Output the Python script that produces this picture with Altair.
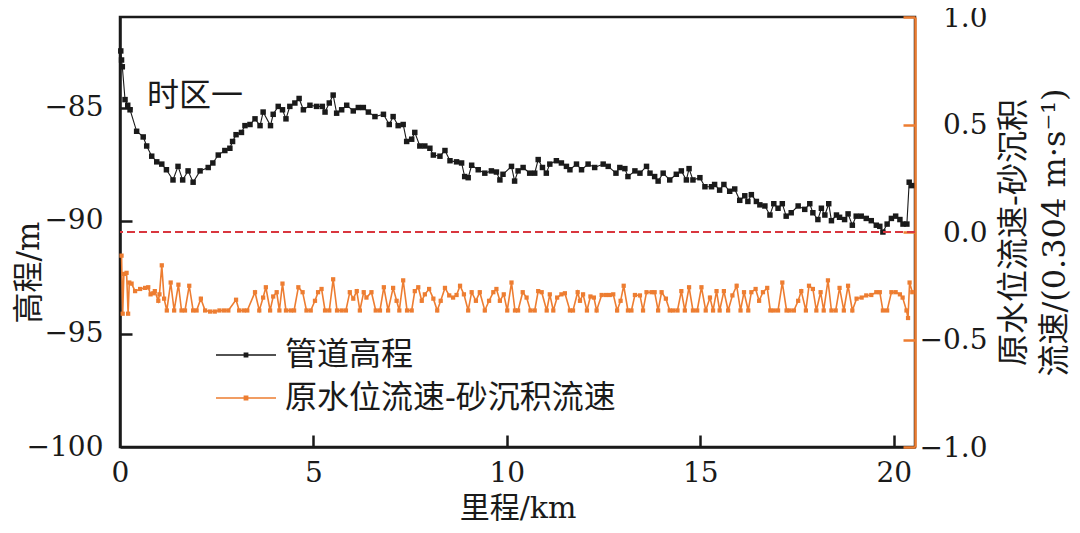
import altair as alt
import pandas as pd

FONT = "DejaVu Serif, Noto Sans CJK SC"
BLACK = "#1a1a1a"
ORANGE = "#ED7D31"
RED = "#D9363E"

SERIES = ["管道高程", "原水位流速-砂沉积流速"]
X_TICKS = [0, 5, 10, 15, 20]
LEFT_TICKS = [-100, -95, -90, -85]
RIGHT_TICKS = [-1.0, -0.5, 0.0, 0.5, 1.0]
ZERO = [0.0]
NOTE_KM = [0.7]
NOTE_M = [-84.47]
NOTE_TEXT = ["时区一"]
RIGHT_TITLE = ["原水位流速-砂沉积", "流速/(0.304 m·s⁻¹)"]

# (km, elevation m)
ELEV = [
    (0.02, -82.5), (0.04, -82.9), (0.06, -83.2), (0.13, -84.65), (0.2, -84.9), (0.26, -85.1),
    (0.43, -86.05), (0.6, -86.3), (0.69, -86.7), (0.82, -87.15), (0.95, -87.4), (1.08, -87.5),
    (1.2, -87.75), (1.37, -88.2), (1.5, -87.6), (1.62, -88.2), (1.76, -87.8), (1.89, -88.3),
    (2.07, -87.8), (2.28, -87.65), (2.4, -87.45), (2.54, -87.1), (2.71, -86.9), (2.84, -86.8),
    (2.91, -86.5), (3.0, -86.2), (3.14, -86.1), (3.23, -85.8), (3.36, -85.75), (3.49, -85.5),
    (3.62, -85.8), (3.7, -85.2), (3.89, -85.8), (3.96, -85.3), (4.09, -84.95), (4.2, -85.1),
    (4.29, -85.5), (4.39, -84.95), (4.52, -84.8), (4.63, -84.6), (4.74, -85.1), (4.91, -84.9),
    (5.08, -84.95), (5.23, -84.95), (5.3, -85.2), (5.41, -84.8), (5.51, -84.45), (5.6, -85.25),
    (5.73, -85.1), (5.86, -84.9), (6.03, -85.15), (6.16, -85.0), (6.29, -85.0), (6.42, -85.2),
    (6.59, -85.4), (6.81, -85.3), (6.96, -85.75), (7.06, -85.4), (7.19, -85.8), (7.32, -85.75),
    (7.41, -86.5), (7.54, -86.4), (7.62, -86.1), (7.75, -86.7), (7.88, -86.7), (8.01, -86.8),
    (8.1, -87.1), (8.27, -87.15), (8.4, -86.9), (8.53, -87.35), (8.7, -87.4), (8.83, -87.45),
    (8.91, -88.05), (9.0, -88.1), (9.09, -87.55), (9.26, -87.75), (9.43, -87.9), (9.6, -87.8),
    (9.73, -87.85), (9.82, -88.2), (9.9, -87.95), (10.12, -87.6), (10.2, -88.25), (10.29, -87.8),
    (10.42, -87.65), (10.59, -87.9), (10.72, -87.9), (10.81, -87.3), (10.92, -87.65), (11.02, -87.9),
    (11.11, -87.5), (11.28, -87.35), (11.41, -87.45), (11.54, -87.6), (11.63, -87.75), (11.8, -87.5),
    (11.93, -87.75), (12.1, -87.5), (12.27, -87.65), (12.49, -87.5), (12.62, -87.6), (12.82, -87.9),
    (12.92, -87.65), (13.05, -87.7), (13.13, -88.05), (13.31, -87.8), (13.44, -87.9), (13.61, -87.6),
    (13.7, -87.9), (13.82, -88.05), (13.91, -88.25), (14.04, -87.9), (14.21, -88.2), (14.38, -87.95),
    (14.51, -87.8), (14.64, -88.2), (14.71, -87.7), (14.81, -88.2), (14.99, -88.1), (15.12, -88.5),
    (15.29, -88.5), (15.37, -88.4), (15.5, -88.65), (15.61, -88.4), (15.76, -88.7), (15.89, -88.6),
    (16.02, -89.1), (16.15, -88.9), (16.23, -89.15), (16.32, -88.85), (16.45, -89.15), (16.54, -89.3),
    (16.67, -89.35), (16.8, -89.75), (16.9, -89.25), (17.01, -89.45), (17.12, -89.25), (17.22, -89.8),
    (17.35, -89.65), (17.53, -89.35), (17.7, -89.5), (17.83, -89.25), (17.91, -89.65), (18.04, -89.95),
    (18.13, -89.45), (18.22, -89.75), (18.32, -89.25), (18.39, -90.0), (18.52, -89.75), (18.6, -89.85),
    (18.73, -89.95), (18.82, -89.7), (18.93, -90.2), (19.03, -89.8), (19.16, -89.8), (19.29, -89.9),
    (19.42, -90.0), (19.55, -90.2), (19.64, -90.25), (19.72, -90.5), (19.83, -90.15), (19.94, -89.9),
    (20.05, -89.8), (20.16, -89.95), (20.24, -90.15), (20.34, -90.15), (20.4, -88.3), (20.46, -88.45),
]

# (km, velocity difference / 0.304 m/s)
VEL = [
    (0.04, -0.11), (0.07, -0.38), (0.10, -0.195), (0.17, -0.19), (0.21, -0.38), (0.24, -0.235),
    (0.30, -0.24), (0.39, -0.275), (0.52, -0.265), (0.65, -0.26), (0.73, -0.257), (0.79, -0.29),
    (0.86, -0.285), (0.90, -0.275), (0.99, -0.32), (1.02, -0.29), (1.08, -0.155), (1.14, -0.31),
    (1.21, -0.365), (1.31, -0.235), (1.40, -0.365), (1.51, -0.245), (1.59, -0.365), (1.68, -0.365),
    (1.79, -0.25), (1.89, -0.365), (1.98, -0.365), (2.09, -0.31), (2.20, -0.365), (2.33, -0.37),
    (2.45, -0.37), (2.57, -0.365), (2.69, -0.365), (2.80, -0.365), (3.00, -0.315), (3.08, -0.365),
    (3.20, -0.365), (3.29, -0.365), (3.49, -0.28), (3.60, -0.365), (3.70, -0.305), (3.77, -0.257),
    (3.88, -0.365), (3.96, -0.30), (4.05, -0.28), (4.12, -0.365), (4.20, -0.24), (4.29, -0.365),
    (4.41, -0.365), (4.50, -0.365), (4.61, -0.257), (4.72, -0.28), (4.82, -0.365), (4.93, -0.365),
    (5.04, -0.32), (5.12, -0.28), (5.21, -0.265), (5.30, -0.365), (5.41, -0.365), (5.51, -0.22),
    (5.61, -0.365), (5.73, -0.365), (5.84, -0.365), (5.94, -0.28), (6.03, -0.31), (6.12, -0.275),
    (6.20, -0.365), (6.30, -0.28), (6.37, -0.305), (6.50, -0.28), (6.61, -0.365), (6.72, -0.365),
    (6.82, -0.257), (6.93, -0.365), (7.06, -0.26), (7.15, -0.32), (7.22, -0.365), (7.32, -0.225),
    (7.42, -0.365), (7.54, -0.365), (7.62, -0.275), (7.71, -0.257), (7.80, -0.32), (7.88, -0.29),
    (7.99, -0.265), (8.10, -0.31), (8.20, -0.365), (8.29, -0.32), (8.40, -0.26), (8.51, -0.295),
    (8.61, -0.305), (8.70, -0.293), (8.79, -0.25), (8.89, -0.29), (9.00, -0.365), (9.09, -0.28),
    (9.20, -0.32), (9.30, -0.28), (9.43, -0.365), (9.54, -0.32), (9.65, -0.28), (9.73, -0.265),
    (9.82, -0.32), (9.92, -0.29), (10.01, -0.365), (10.12, -0.235), (10.21, -0.365), (10.29, -0.365),
    (10.41, -0.28), (10.51, -0.305), (10.61, -0.365), (10.72, -0.365), (10.81, -0.275), (10.90, -0.28),
    (11.03, -0.365), (11.11, -0.29), (11.20, -0.365), (11.30, -0.305), (11.41, -0.29), (11.50, -0.285),
    (11.63, -0.365), (11.71, -0.365), (11.83, -0.28), (11.89, -0.32), (11.97, -0.29), (12.07, -0.365),
    (12.16, -0.30), (12.25, -0.305), (12.32, -0.365), (12.45, -0.293), (12.56, -0.293), (12.66, -0.293),
    (12.75, -0.29), (12.85, -0.365), (12.94, -0.32), (13.02, -0.25), (13.13, -0.365), (13.22, -0.365),
    (13.31, -0.293), (13.44, -0.295), (13.52, -0.365), (13.61, -0.28), (13.74, -0.28), (13.82, -0.28),
    (13.91, -0.365), (14.00, -0.28), (14.11, -0.31), (14.21, -0.365), (14.30, -0.365), (14.41, -0.365),
    (14.51, -0.275), (14.60, -0.365), (14.71, -0.257), (14.81, -0.365), (14.92, -0.365), (15.03, -0.257),
    (15.14, -0.365), (15.25, -0.305), (15.33, -0.365), (15.42, -0.275), (15.50, -0.365), (15.61, -0.275),
    (15.72, -0.365), (15.83, -0.295), (15.94, -0.25), (16.04, -0.365), (16.13, -0.28), (16.24, -0.365),
    (16.32, -0.28), (16.43, -0.265), (16.52, -0.32), (16.62, -0.28), (16.73, -0.26), (16.81, -0.365),
    (16.90, -0.365), (17.01, -0.365), (17.12, -0.235), (17.23, -0.365), (17.31, -0.365), (17.42, -0.365),
    (17.53, -0.32), (17.61, -0.275), (17.73, -0.365), (17.81, -0.25), (17.91, -0.265), (18.00, -0.365),
    (18.11, -0.28), (18.19, -0.365), (18.30, -0.225), (18.39, -0.365), (18.50, -0.365), (18.60, -0.26),
    (18.71, -0.365), (18.82, -0.25), (18.93, -0.365), (19.04, -0.31), (19.17, -0.305), (19.29, -0.295),
    (19.42, -0.293), (19.55, -0.28), (19.64, -0.28), (19.72, -0.365), (19.83, -0.365), (19.94, -0.28),
    (20.05, -0.28), (20.16, -0.29), (20.23, -0.305), (20.33, -0.365), (20.37, -0.40), (20.41, -0.235),
    (20.48, -0.28),
]

elev_df = pd.DataFrame(ELEV, columns=["km", "elev"])
elev_df["series"] = SERIES[0]
vel_df = pd.DataFrame(VEL, columns=["km", "v"])
vel_df["series"] = SERIES[1]
zero_df = pd.DataFrame({"v": ZERO})
note_df = pd.DataFrame({"km": NOTE_KM, "elev": NOTE_M, "label": NOTE_TEXT})

W, H = 795, 430
xs = alt.Scale(domain=[0, 20.55], nice=False, zero=False)
ys_left = alt.Scale(domain=[-100, -81], nice=False, zero=False)
ys_right = alt.Scale(domain=[-1, 1], nice=False, zero=False)

SYMBOL = ("M-1,0H1M-0.08,-0.06H0.08M-0.08,-0.03H0.08M-0.08,0H0.08"
          "M-0.08,0.03H0.08M-0.08,0.06H0.08")

color = alt.Color(
    "series:N",
    scale=alt.Scale(domain=SERIES, range=[BLACK, ORANGE]),
    legend=alt.Legend(
        title=None, orient="none", legendX=95, legendY=323,
        symbolType=SYMBOL, symbolSize=3600, symbolStrokeWidth=1.5,
        clipHeight=30, rowPadding=11, labelFont=FONT, labelFontSize=32,
        labelOffset=8, labelColor=BLACK, labelLimit=800, padding=0,
    ),
)

black_line = alt.Chart(elev_df).mark_line(strokeWidth=1.1).encode(
    x=alt.X("km:Q", scale=xs, axis=alt.Axis(
        values=X_TICKS, ticks=False, labelFlush=False, labelPadding=12,
        labelFontSize=28, domainColor=BLACK, domainWidth=2.5, grid=False,
        title="里程/km", titleFontSize=30, titleY=70, titleBaseline="alphabetic")),
    y=alt.Y("elev:Q", scale=ys_left, axis=alt.Axis(
        orient="left", values=LEFT_TICKS, ticks=False, labelPadding=17,
        labelFontSize=28, domainColor=BLACK, domainWidth=2.5, grid=False,
        title="高程/m", titleFontSize=31, titleAngle=270, titleX=-91, titleY=255,
        titleAlign="center", titleBaseline="middle")),
    color=color,
)

black_pts = alt.Chart(elev_df).mark_point(
    shape="square", filled=True, size=30, color=BLACK, opacity=1
).encode(
    x=alt.X("km:Q", scale=xs, axis=alt.Axis(
        orient="top", offset=-H, values=X_TICKS[1:], labels=False, domain=False,
        grid=False, tickSize=12, tickWidth=2.5, tickColor=BLACK, title=None)),
    y=alt.Y("elev:Q", scale=ys_left, axis=alt.Axis(
        orient="right", offset=-W, values=LEFT_TICKS[1:], labels=False, domain=False,
        grid=False, tickSize=12, tickWidth=2.5, tickColor=BLACK, title=None)),
)

note = alt.Chart(note_df).mark_text(
    align="left", baseline="middle", font=FONT, fontSize=32, color=BLACK
).encode(
    x=alt.X("km:Q", scale=xs, axis=None),
    y=alt.Y("elev:Q", scale=ys_left, axis=None),
    text="label:N",
)

left = alt.layer(black_line, black_pts, note).resolve_axis(x="independent", y="independent")

orange_line = alt.Chart(vel_df).mark_line(strokeWidth=1.6).encode(
    x=alt.X("km:Q", scale=xs, axis=None),
    y=alt.Y("v:Q", scale=ys_right, axis=alt.Axis(
        orient="right", values=RIGHT_TICKS, format=".1f", ticks=False,
        labelAlign="right", labelPadding=72, labelFontSize=28, labelOffset=1,
        domainColor=ORANGE, domainWidth=2.5, grid=False,
        title=RIGHT_TITLE, titleFontSize=32, titleAngle=270, titleX=98, titleY=H / 2,
        titleLineHeight=41, titleAlign="center", titleBaseline="middle")),
    color=color,
)

orange_pts = alt.Chart(vel_df).mark_point(
    shape="square", filled=True, size=18, color=ORANGE, opacity=1
).encode(
    x=alt.X("km:Q", scale=xs, axis=None),
    y=alt.Y("v:Q", scale=ys_right, axis=alt.Axis(
        orient="left", offset=-W, values=RIGHT_TICKS, labels=False, domain=False,
        grid=False, tickSize=12, tickWidth=2.5, tickColor=ORANGE, title=None)),
)

zero_rule = alt.Chart(zero_df).mark_rule(
    color=RED, strokeDash=[8, 4], strokeWidth=1.8
).encode(
    y=alt.Y("v:Q", scale=ys_right, axis=None),
)

right = alt.layer(orange_line, orange_pts, zero_rule).resolve_axis(y="independent")

chart = (
    alt.layer(left, right)
    .resolve_scale(y="independent")
    .properties(
        width=W, height=H,
        autosize=alt.AutoSizeParams(type="none"),
        padding={"left": 112, "top": 9, "right": 157, "bottom": 78},
        background="white",
    )
    .configure_view(stroke=BLACK, strokeWidth=2.5)
    .configure_axis(labelFont=FONT, titleFont=FONT, titleFontWeight="normal",
                    labelColor=BLACK, titleColor=BLACK)
    .configure_text(font=FONT)
)

chart.save("out.html", embed_options={"renderer": "svg", "actions": False})
